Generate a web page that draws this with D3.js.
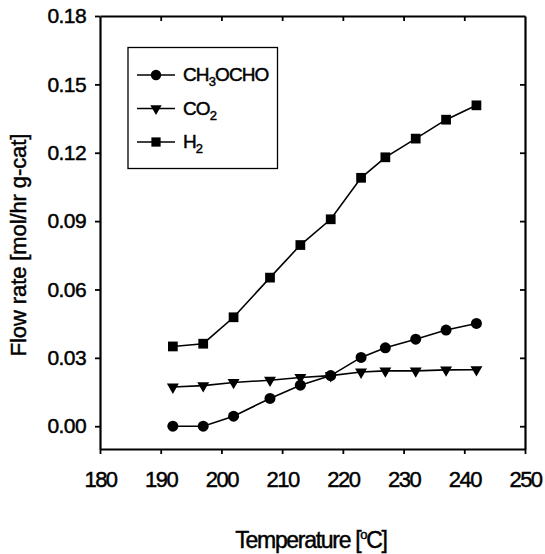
<!DOCTYPE html>
<html><head><meta charset="utf-8">
<script src="https://cdn.jsdelivr.net/npm/d3@7"></script>
<style>
body{margin:0;background:#fff;}
text{font-family:"Liberation Sans",Arial,sans-serif;fill:#000;stroke:#000;stroke-width:0.45px;}
</style></head>
<body><svg id="c" width="545" height="554"></svg>
<script>
const temps = [192,197,202,208,213,218,223,227,232,237,242];
const ch3ocho = [0.0000,0.0000,0.0044,0.0122,0.0180,0.0222,0.0302,0.0344,0.0382,0.0422,0.0451];
const co2 = [0.0172,0.0178,0.0192,0.0202,0.0214,0.0222,0.0238,0.0243,0.0243,0.0247,0.0248];
const h2 = [0.0350,0.0362,0.0478,0.0652,0.0795,0.0908,0.1090,0.1180,0.1262,0.1345,0.1408];
const xTicks = [180,190,200,210,220,230,240,250];
const yTicks = [0.00,0.03,0.06,0.09,0.12,0.15,0.18];

const svg = d3.select("#c");
const x = d3.scaleLinear().domain([180,250]).range([100,525]);
const y = d3.scaleLinear().domain([-0.01,0.18]).range([449,16]);

function styleAxis(g){
  g.select(".domain").attr("stroke","#000").attr("stroke-width",2.2);
  g.selectAll(".tick line").attr("stroke","#000").attr("stroke-width",1.8);
  g.selectAll("text").attr("fill","#000");
}
// bottom
svg.append("g").attr("transform","translate(0,449)")
  .call(d3.axisBottom(x).tickValues(xTicks).tickSize(5).tickSizeOuter(0).tickPadding(17).tickFormat(d3.format("d")))
  .call(styleAxis)
  .selectAll("text").style("font-size","22px").style("letter-spacing","-1.5px");
// left
svg.append("g").attr("transform","translate(100,0)")
  .call(d3.axisLeft(y).tickValues(yTicks).tickSize(5).tickSizeOuter(0).tickPadding(9).tickFormat(d3.format(".2f")))
  .call(styleAxis)
  .selectAll("text").style("font-size","21px").style("letter-spacing","-0.6px");
// top
svg.append("g").attr("transform","translate(0,16)")
  .call(d3.axisTop(x).tickValues(xTicks.slice(1,-1)).tickSize(-5).tickSizeOuter(0).tickFormat(""))
  .call(styleAxis);
// right
svg.append("g").attr("transform","translate(525,0)")
  .call(d3.axisRight(y).tickValues(yTicks.slice(0,-1)).tickSize(-5).tickSizeOuter(0).tickFormat(""))
  .call(styleAxis);

const series = [
  {name:"CH3OCHO", vals:ch3ocho, sym:d3.symbolCircle, size:95},
  {name:"CO2", vals:co2, sym:d3.symbolTriangle, size:62, flip:true},
  {name:"H2", vals:h2, sym:d3.symbolSquare, size:95}
];
const line = d3.line().x(d=>x(d[0])).y(d=>y(d[1]));
series.forEach(s=>{
  const pts = temps.map((t,i)=>[t,s.vals[i]]);
  svg.append("path").attr("d",line(pts)).attr("fill","none").attr("stroke","#000").attr("stroke-width",1.6);
  svg.append("g").selectAll("path").data(pts).join("path")
    .attr("d",d3.symbol().type(s.sym).size(s.size))
    .attr("transform",d=>`translate(${x(d[0])},${y(d[1])})`+(s.flip?" rotate(180)":""))
    .attr("fill","#000");
});

// legend
const lg = svg.append("g");
lg.append("rect").attr("x",128).attr("y",47.5).attr("width",149.5).attr("height",121)
  .attr("fill","#fff").attr("stroke","#000").attr("stroke-width",1.3);
const rowsY = [75,108.5,142];
const labels = [["CH","3","OCHO"],["CO","2",""],["H","2",""]];
series.forEach((s,i)=>{
  const yy = rowsY[i];
  lg.append("line").attr("x1",137).attr("x2",175).attr("y1",yy).attr("y2",yy).attr("stroke","#000").attr("stroke-width",1.6);
  lg.append("path").attr("d",d3.symbol().type(s.sym).size(s.size*0.9))
    .attr("transform",`translate(156,${yy})`+(s.flip?" rotate(180)":"")).attr("fill","#000");
  const t = lg.append("text").attr("x",183).attr("y",yy+6).style("font-size","19px").style("letter-spacing","-0.9px");
  t.append("tspan").text(labels[i][0]);
  t.append("tspan").attr("dy",5).style("font-size","13px").text(labels[i][1]);
  if(labels[i][2]) t.append("tspan").attr("dy",-5).text(labels[i][2]);
});

// axis titles
const xt = svg.append("text").attr("x",311).attr("y",548).attr("text-anchor","middle")
  .style("font-size","23px").style("letter-spacing","-1.3px");
xt.append("tspan").text("Temperature [");
xt.append("tspan").attr("dy",-9).style("font-size","13px").text("o");
xt.append("tspan").attr("dy",9).text("C]");

svg.append("text").attr("transform","translate(26,245) rotate(-90)").attr("text-anchor","middle")
  .style("font-size","22px").style("letter-spacing","-0.1px").text("Flow rate [mol/hr g-cat]");
</script></body></html>
